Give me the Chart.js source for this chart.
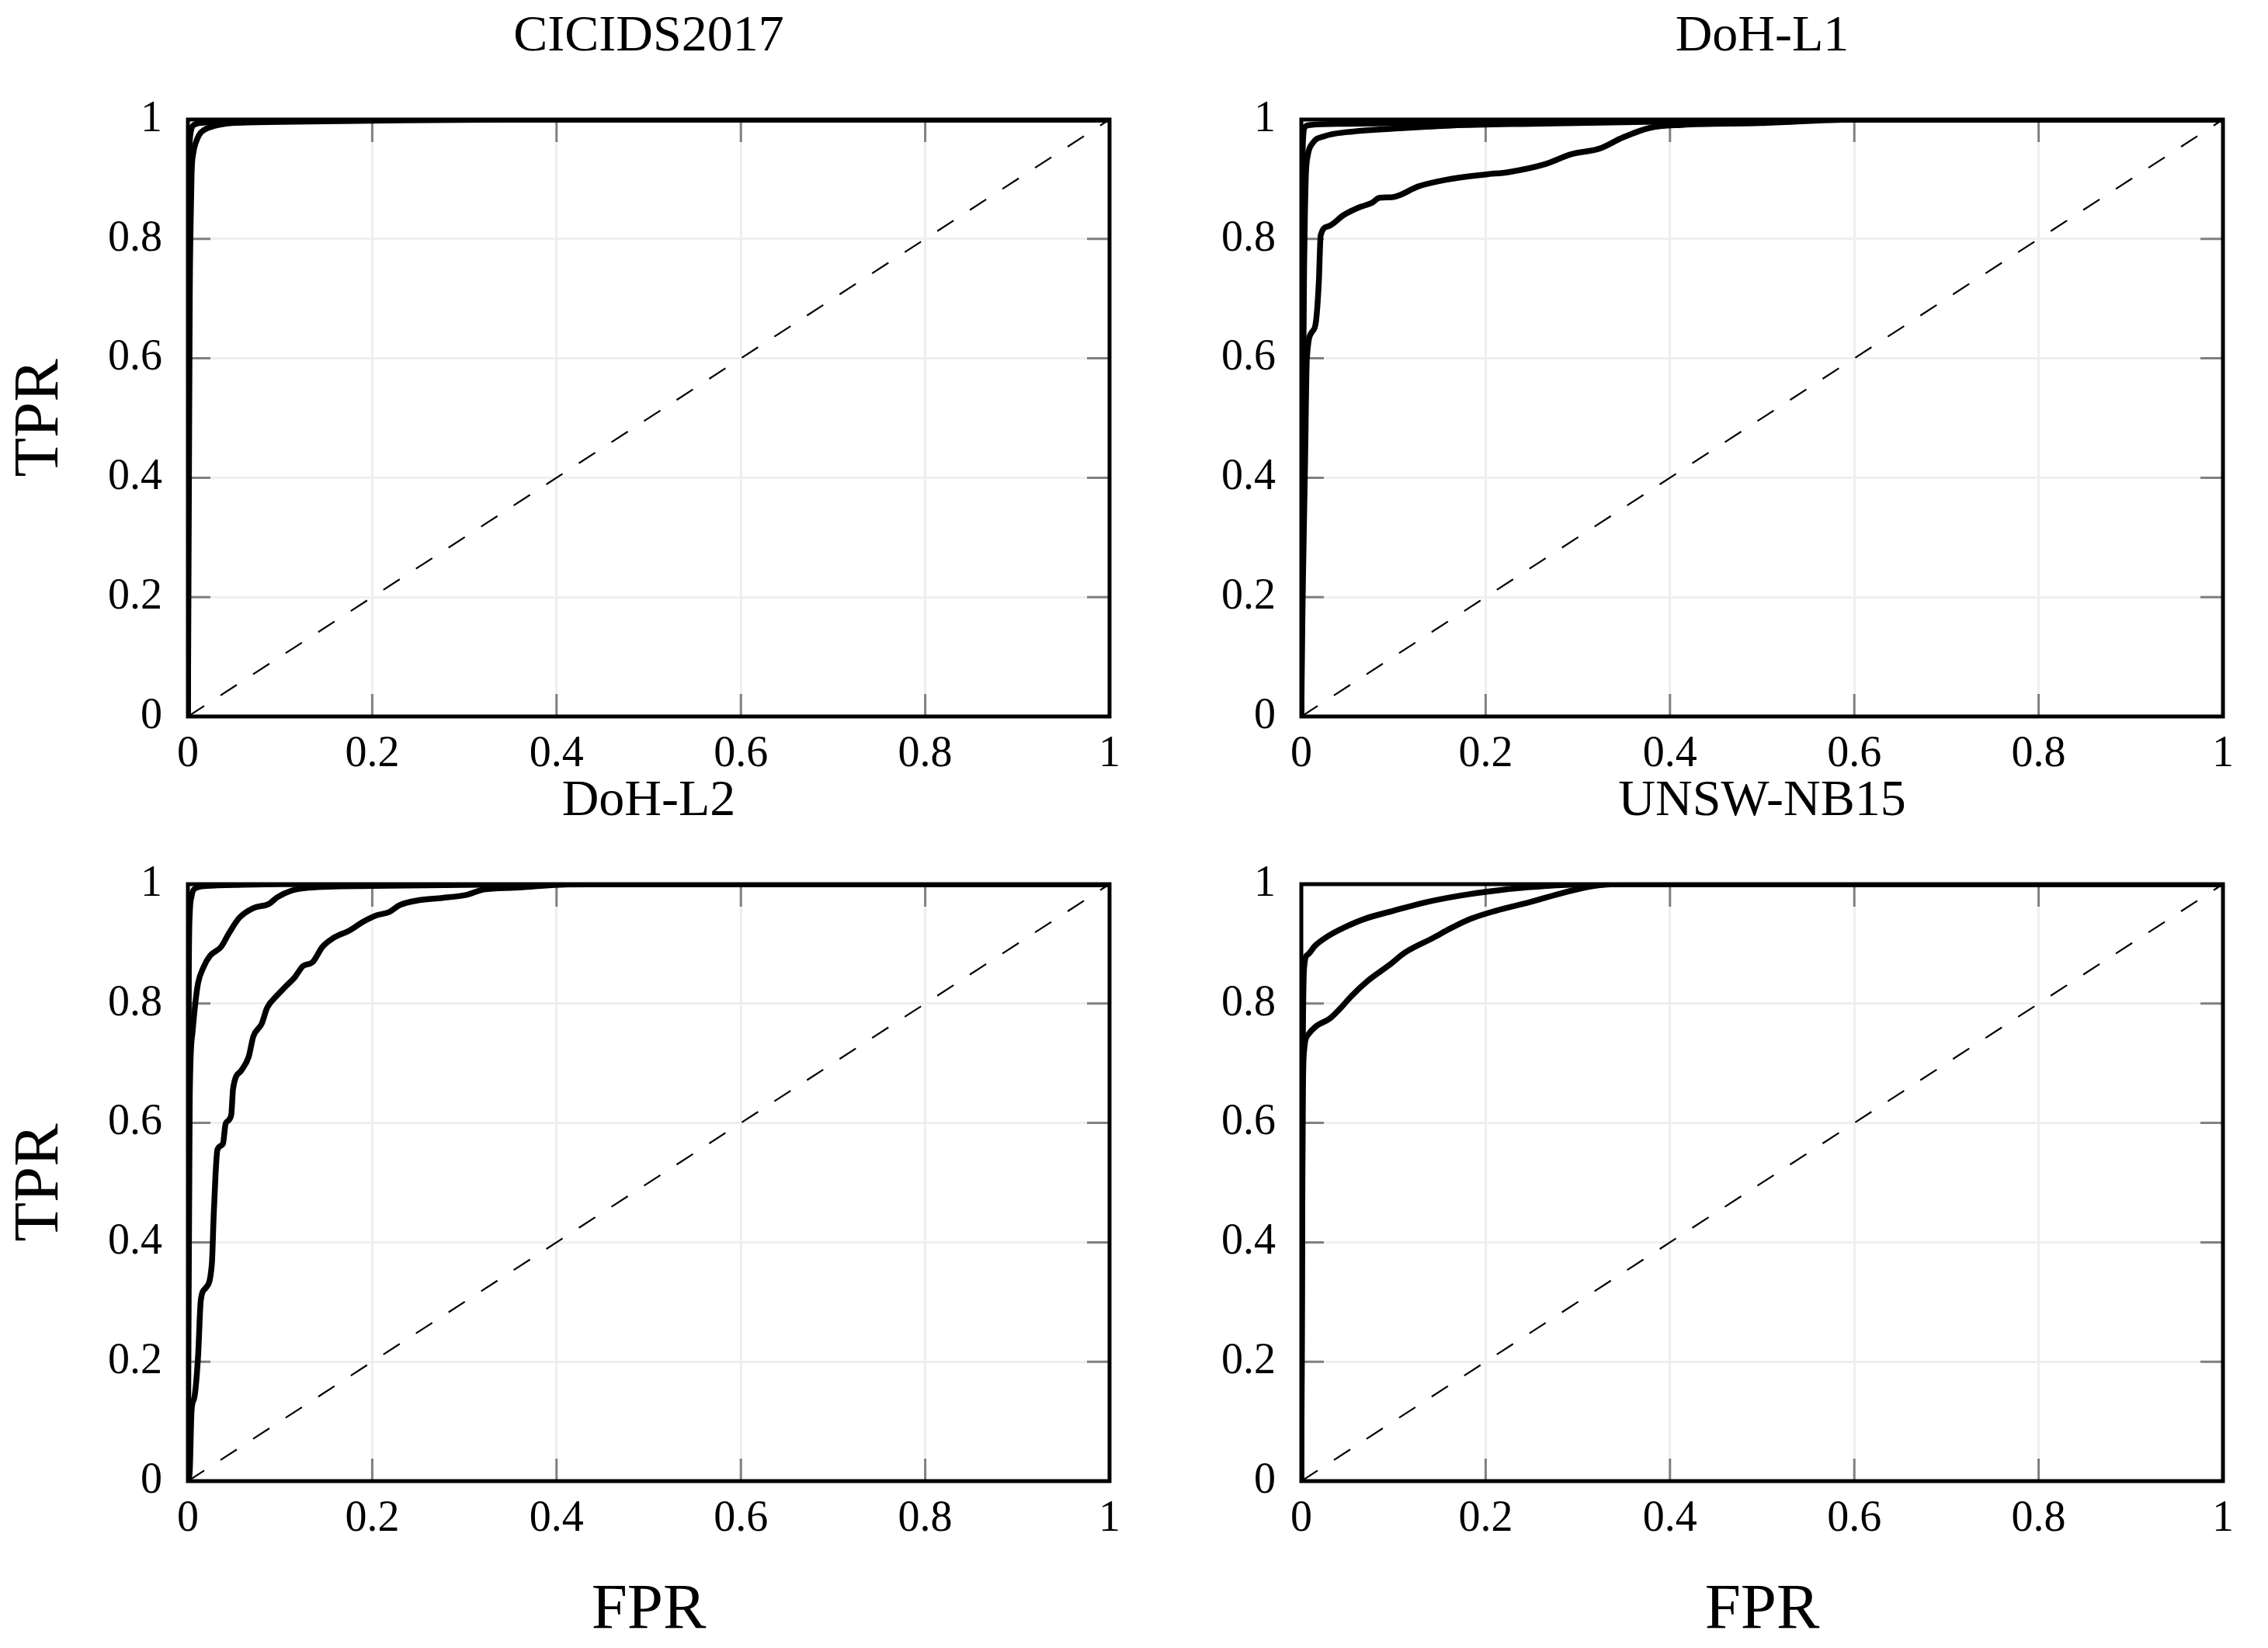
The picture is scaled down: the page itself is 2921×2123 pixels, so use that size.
<!DOCTYPE html>
<html>
<head>
<meta charset="utf-8">
<script src="https://cdn.jsdelivr.net/npm/chart.js@4.4.1/dist/chart.umd.min.js"></script>
<style>
  body { margin: 0; background: #fff; overflow: hidden; }
  #wrap { position: relative; width: 2921px; height: 2123px; }
  canvas { position: absolute; }
</style>
</head>
<body>
<div id="wrap">
  <canvas id="c1"></canvas>
  <canvas id="c2"></canvas>
  <canvas id="c3"></canvas>
  <canvas id="c4"></canvas>
</div>
<script>
// axis ticks
const tickValues = [0, 0.2, 0.4, 0.6, 0.8, 1];
const tickLabels = ['0', '0.2', '0.4', '0.6', '0.8', '1'];

// chance line
const diagFpr = [0, 1];
const diagTpr = [0, 1];

// CICIDS2017
const cicFprA = [0, 0.0005, 0.001, 0.002, 0.004, 0.008, 0.02, 0.05, 0.15, 1];
const cicTprA = [0, 0.6, 0.9, 0.965, 0.985, 0.992, 0.995, 0.997, 1, 1];
const cicFprB = [0, 0.001, 0.002, 0.003, 0.004, 0.006, 0.009, 0.0125, 0.018, 0.028, 0.048, 0.1, 0.2, 0.35, 1];
const cicTprB = [0, 0.35, 0.7, 0.83, 0.91, 0.945, 0.963, 0.975, 0.983, 0.989, 0.994, 0.996, 0.998, 1, 1];

// DoH-L1
const l1FprA = [0, 0.0005, 0.001, 0.002, 0.004, 0.01, 0.05, 0.16, 0.4, 0.6, 1];
const l1TprA = [0, 0.5, 0.85, 0.97, 0.988, 0.991, 0.993, 0.995, 0.999, 1, 1];
const l1FprB = [0, 0.001, 0.002, 0.003, 0.004, 0.005, 0.007, 0.012, 0.025, 0.05, 0.114, 0.163, 0.25, 0.41, 0.6, 1];
const l1TprB = [0, 0.3, 0.55, 0.75, 0.85, 0.91, 0.94, 0.96, 0.972, 0.979, 0.986, 0.99, 0.993, 0.997, 1, 1];
const l1FprC = [0, 0.001, 0.002, 0.004, 0.006, 0.012, 0.016, 0.019, 0.021, 0.029, 0.046, 0.063, 0.076, 0.085, 0.099, 0.127, 0.157, 0.2, 0.225, 0.264, 0.293, 0.323, 0.349, 0.378, 0.413, 0.498, 0.6, 1];
const l1TprC = [0, 0.15, 0.25, 0.42, 0.6, 0.645, 0.663, 0.728, 0.806, 0.821, 0.84, 0.853, 0.86, 0.869, 0.87, 0.888, 0.899, 0.908, 0.912, 0.925, 0.942, 0.951, 0.97, 0.986, 0.991, 0.994, 1, 1];

// DoH-L2
const l2FprA = [0, 0.0005, 0.001, 0.002, 0.004, 0.008, 0.02, 0.06, 0.1, 1];
const l2TprA = [0, 0.5, 0.85, 0.95, 0.98, 0.993, 0.997, 0.999, 1, 1];
const l2FprB = [0, 0.0008, 0.0015, 0.002, 0.005, 0.008, 0.011, 0.017, 0.024, 0.036, 0.045, 0.056, 0.071, 0.088, 0.097, 0.112, 0.131, 0.2, 0.317, 0.5, 1];
const l2TprB = [0, 0.3, 0.5, 0.643, 0.752, 0.8, 0.834, 0.861, 0.88, 0.895, 0.919, 0.944, 0.96, 0.967, 0.978, 0.989, 0.994, 0.997, 0.999, 1, 1];
const l2FprC = [0, 0.002, 0.004, 0.007, 0.011, 0.014, 0.019, 0.026, 0.028, 0.030, 0.032, 0.038, 0.041, 0.047, 0.049, 0.058, 0.066, 0.071, 0.08, 0.086, 0.097, 0.105, 0.116, 0.125, 0.135, 0.146, 0.157, 0.176, 0.19, 0.205, 0.218, 0.23, 0.25, 0.276, 0.302, 0.321, 0.355, 0.42, 1];
const l2TprC = [0, 0.017, 0.119, 0.14, 0.208, 0.303, 0.323, 0.364, 0.446, 0.514, 0.555, 0.565, 0.599, 0.613, 0.657, 0.688, 0.711, 0.745, 0.766, 0.793, 0.814, 0.827, 0.844, 0.863, 0.869, 0.895, 0.909, 0.923, 0.937, 0.948, 0.953, 0.965, 0.973, 0.977, 0.982, 0.991, 0.994, 1, 1];

// UNSW-NB15
const unFprA = [0, 0.0008, 0.0015, 0.003, 0.007, 0.015, 0.028, 0.046, 0.069, 0.099, 0.136, 0.173, 0.21, 0.248, 0.296, 0.35, 1];
const unTprA = [0, 0.4, 0.7, 0.86, 0.882, 0.897, 0.912, 0.927, 0.942, 0.955, 0.97, 0.981, 0.989, 0.995, 0.9995, 1, 1];
const unFprB = [0, 0.0008, 0.0015, 0.003, 0.007, 0.016, 0.031, 0.043, 0.054, 0.072, 0.095, 0.113, 0.143, 0.162, 0.184, 0.21, 0.248, 0.285, 0.315, 0.341, 1];
const unTprB = [0, 0.35, 0.62, 0.721, 0.747, 0.762, 0.775, 0.793, 0.812, 0.838, 0.864, 0.886, 0.91, 0.926, 0.942, 0.955, 0.97, 0.986, 0.9965, 1, 1];

Chart.defaults.font.family = '"Liberation Serif", "Times New Roman", serif';
Chart.defaults.color = '#000';

const toPoints = (fpr, tpr) => fpr.map((x, i) => ({x: x, y: tpr[i]}));

// inward ticks on all four sides plus the black box
const frameBox = {
    id: 'frameBox',
    beforeDatasetsDraw(chart) {
        const {ctx, chartArea: a, scales: {x, y}} = chart;
        ctx.save();
        ctx.strokeStyle = '#808080';
        ctx.lineWidth = 3;
        ctx.beginPath();
        tickValues.forEach(v => {
            const px = x.getPixelForValue(v);
            const py = y.getPixelForValue(v);
            ctx.moveTo(px, a.bottom); ctx.lineTo(px, a.bottom - 29);
            ctx.moveTo(px, a.top); ctx.lineTo(px, a.top + 29);
            ctx.moveTo(a.left, py); ctx.lineTo(a.left + 29, py);
            ctx.moveTo(a.right, py); ctx.lineTo(a.right - 29, py);
        });
        ctx.stroke();
        ctx.restore();
    },
    afterDatasetsDraw(chart) {
        const {ctx, chartArea: a} = chart;
        ctx.save();
        ctx.strokeStyle = '#000';
        ctx.lineWidth = 5;
        ctx.strokeRect(a.left, a.top, a.right - a.left, a.bottom - a.top);
        ctx.restore();
    }
};

function makePanel(id, pos, title, curves, showY, showX) {
    const cv = document.getElementById(id);
    cv.width = pos.w; cv.height = pos.h;
    cv.style.left = pos.left + 'px'; cv.style.top = pos.top + 'px';
    cv.style.width = pos.w + 'px'; cv.style.height = pos.h + 'px';

    const datasets = curves.map(c => ({
        data: toPoints(c[0], c[1]),
        borderColor: '#000',
        borderWidth: 7.5,
        pointRadius: 0,
        cubicInterpolationMode: 'monotone',
        fill: false
    }));
    datasets.push({
        data: toPoints(diagFpr, diagTpr),
        borderColor: '#000',
        borderWidth: 2.2,
        borderDash: [25, 25],
        pointRadius: 0,
        fill: false
    });

    const axisCommon = {
        type: 'linear',
        min: 0,
        max: 1,
        afterBuildTicks: s => { s.ticks = tickValues.map(v => ({value: v})); },
        grid: { color: '#efefef', lineWidth: 3, drawTicks: false },
        border: { display: false }
    };

    new Chart(cv, {
        type: 'line',
        data: { datasets: datasets },
        options: {
            responsive: false,
            animation: false,
            layout: { padding: { left: 0, right: 20, top: 0, bottom: 0 } },
            plugins: {
                legend: { display: false },
                tooltip: { enabled: false },
                title: {
                    display: true,
                    fullSize: false,
                    text: title,
                    font: { size: 66, weight: 'normal', lineHeight: 1.2 },
                    padding: { top: 8, bottom: 66.8 }
                }
            },
            scales: {
                x: Object.assign({}, axisCommon, {
                    position: 'bottom',
                    ticks: { font: { size: 56, lineHeight: 1.2 }, padding: 16, maxRotation: 0,
                             callback: (v, i) => tickLabels[i] },
                    title: { display: showX, text: 'FPR', font: { size: 83, lineHeight: 1 },
                             padding: { top: 0, bottom: 0 } },
                    afterFit: s => { s.height = pos.b; }
                }),
                y: Object.assign({}, axisCommon, {
                    position: 'left',
                    ticks: { font: { size: 56, lineHeight: 1.2 }, padding: 33,
                             callback: (v, i) => tickLabels[i] },
                    title: { display: showY, text: 'TPR', font: { size: 83, lineHeight: 1 },
                             padding: { top: 11, bottom: 0 } },
                    afterFit: s => { s.width = pos.l; }
                })
            }
        },
        plugins: [frameBox]
    });
}

makePanel('c1', {left: 0, top: 0, w: 1459, h: 1013, l: 242, b: 90}, 'CICIDS2017',
    [[cicFprA, cicTprA], [cicFprB, cicTprB]], true, false);
makePanel('c2', {left: 1476, top: 0, w: 1417, h: 1013, l: 200, b: 90}, 'DoH-L1',
    [[l1FprA, l1TprA], [l1FprB, l1TprB], [l1FprC, l1TprC]], false, false);
makePanel('c3', {left: 0, top: 985, w: 1459, h: 1132, l: 242, b: 209}, 'DoH-L2',
    [[l2FprA, l2TprA], [l2FprB, l2TprB], [l2FprC, l2TprC]], true, true);
makePanel('c4', {left: 1476, top: 985, w: 1417, h: 1132, l: 200, b: 209}, 'UNSW-NB15',
    [[unFprA, unTprA], [unFprB, unTprB]], false, true);
</script>
</body>
</html>
